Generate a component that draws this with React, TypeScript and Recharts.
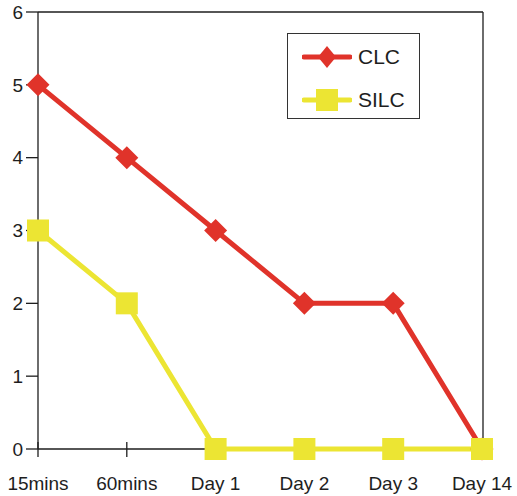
import React from 'react';
import { LineChart, Line, XAxis, YAxis, CartesianGrid } from 'recharts';

const timepoints = ['15mins', '60mins', 'Day 1', 'Day 2', 'Day 3', 'Day 14'];
const clcValues = [5, 4, 3, 2, 2, 0];
const silcValues = [3, 2, 0, 0, 0, 0];
const yTicks = [0, 1, 2, 3, 4, 5, 6];

const RED = '#e0332a';
const YELLOW = '#ece533';
const INK = '#1e1e1e';
const FONT = '"Liberation Sans", Arial, Helvetica, sans-serif';

const data = timepoints.map((t, i) => ({ time: t, CLC: clcValues[i], SILC: silcValues[i] }));

const Diamond = (props: any) => {
  const { cx, cy } = props;
  if (cx == null || cy == null) return null;
  const r = 11.5;
  return (
    <polygon
      points={`${cx},${cy - r} ${cx + r},${cy} ${cx},${cy + r} ${cx - r},${cy}`}
      fill={RED}
    />
  );
};

const Square = (props: any) => {
  const { cx, cy } = props;
  if (cx == null || cy == null) return null;
  return <rect x={cx - 11} y={cy - 11} width={22} height={22} fill={YELLOW} />;
};

// tick marks are drawn in the grid layer so markers sit on top of them
const XTickMark = (props: any) => {
  const { x1, y2 } = props;
  return <line x1={x1} x2={x1} y1={y2 - 7} y2={y2 + 8} stroke={INK} strokeWidth={1.3} />;
};

const YTickMark = (props: any) => {
  const { x1, y1 } = props;
  return <line x1={x1 - 12} x2={x1} y1={y1} y2={y1} stroke={INK} strokeWidth={1.3} />;
};

const XTick = (props: any) => {
  const { x, y, payload } = props;
  return (
    <text x={x} y={y + 41} textAnchor="middle" fontSize={19} fill={INK} fontFamily={FONT}>
      {payload.value}
    </text>
  );
};

const LegendBox = () => (
  <div
    style={{
      position: 'absolute',
      left: 287,
      top: 33,
      width: 131,
      height: 84,
      border: '1.5px solid #333',
      background: '#fff',
      fontFamily: FONT,
      fontSize: 21,
      color: INK,
    }}
  >
    {[
      { name: 'CLC', color: RED, shape: 'diamond' },
      { name: 'SILC', color: YELLOW, shape: 'square' },
    ].map((item, i) => (
      <div
        key={item.name}
        style={{ position: 'absolute', left: 14, top: i === 0 ? 10 : 53, height: 26, display: 'flex', alignItems: 'center' }}
      >
        <svg width={50} height={26}>
          <line x1={2} x2={48} y1={13} y2={13} stroke={item.color} strokeWidth={5} strokeLinecap="round" />
          {item.shape === 'diamond' ? (
            <polygon points="25,2 34,13 25,24 16,13" fill={item.color} />
          ) : (
            <rect x={14} y={2} width={22} height={22} fill={item.color} />
          )}
        </svg>
        <span style={{ marginLeft: 6 }}>{item.name}</span>
      </div>
    ))}
  </div>
);

export default function App() {
  return (
    <div style={{ position: 'absolute', left: 0, top: 0, width: 517, height: 496, background: '#fff', fontFamily: FONT }}>
      <LineChart width={517} height={496} data={data} margin={{ top: 12, right: 34, bottom: 0, left: 0 }}>
        {/* frame */}
        <CartesianGrid
          stroke={INK}
          strokeWidth={1.3}
          horizontalCoordinatesGenerator={({ offset }: any) => [offset.top, offset.top + offset.height]}
          verticalCoordinatesGenerator={({ offset }: any) => [offset.left, offset.left + offset.width]}
        />
        {/* tick marks */}
        <CartesianGrid horizontal={<YTickMark />} vertical={<XTickMark />} />
        <XAxis
          dataKey="time"
          height={47}
          padding={{ left: 0, right: 1 }}
          axisLine={false}
          tickLine={{ stroke: 'none' }}
          tickSize={0}
          tickMargin={0}
          tick={<XTick />}
          interval={0}
        />
        <YAxis
          width={38}
          domain={[0, 6]}
          ticks={yTicks}
          interval={0}
          axisLine={false}
          tickLine={{ stroke: 'none' }}
          tickSize={12}
          tickMargin={3}
          tick={{ fontSize: 19, fill: INK, fontFamily: FONT }}
        />
        <Line
          dataKey="CLC"
          stroke={RED}
          strokeWidth={5}
          dot={<Diamond />}
          activeDot={false}
          isAnimationActive={false}
        />
        <Line
          dataKey="SILC"
          stroke={YELLOW}
          strokeWidth={5}
          dot={<Square />}
          activeDot={false}
          isAnimationActive={false}
        />
      </LineChart>
      <LegendBox />
    </div>
  );
}
